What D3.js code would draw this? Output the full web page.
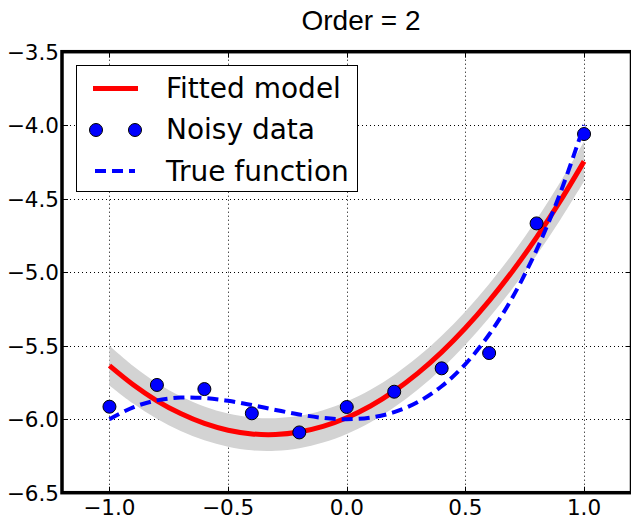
<!DOCTYPE html>
<html>
<head>
<meta charset="utf-8">
<script src="https://cdn.jsdelivr.net/npm/d3@7"></script>
<style>
  body { margin: 0; background: #fff; }
  svg { display: block; }
</style>
</head>
<body>
<div id="chart"></div>
<script>
// noisy samples
const xData = [-1.0, -0.8, -0.6, -0.4, -0.2, 0.0, 0.2, 0.4, 0.6, 0.8, 1.0];
const yData = [-5.915, -5.767, -5.795, -5.96, -6.09, -5.917, -5.813, -5.654, -5.55, -4.668, -4.06];

// curve grid
const xGrid = [-1.0, -0.9, -0.8, -0.7, -0.6, -0.5, -0.4, -0.3, -0.2, -0.1, 0.0,
               0.1, 0.2, 0.3, 0.4, 0.5, 0.6, 0.7, 0.8, 0.9, 1.0];
const fitted = [-5.636, -5.766, -5.875, -5.962, -6.029, -6.075, -6.100, -6.104, -6.087, -6.049, -5.990,
                -5.910, -5.809, -5.687, -5.544, -5.380, -5.195, -4.990, -4.763, -4.515, -4.246];
const bandUpper = [-5.501, -5.638, -5.753, -5.844, -5.914, -5.962, -5.988, -5.993, -5.977, -5.939, -5.880,
                   -5.800, -5.699, -5.576, -5.432, -5.267, -5.080, -4.872, -4.641, -4.387, -4.111];
const bandLower = [-5.771, -5.894, -5.997, -6.080, -6.144, -6.188, -6.212, -6.215, -6.197, -6.159, -6.100,
                   -6.020, -5.919, -5.798, -5.656, -5.493, -5.310, -5.108, -4.885, -4.643, -4.381];
const trueFn = [-6.000, -5.919, -5.872, -5.853, -5.856, -5.875, -5.904, -5.937, -5.968, -5.991, -6.000,
                -5.989, -5.952, -5.883, -5.776, -5.625, -5.424, -5.167, -4.848, -4.461, -4.000];

const xTicks = [-1.0, -0.5, 0.0, 0.5, 1.0];
const yTicks = [-3.5, -4.0, -4.5, -5.0, -5.5, -6.0, -6.5];
const legendLabels = ["Fitted model", "Noisy data", "True function"];

const width = 631, height = 517;
const plot = { left: 62, right: 631.5, top: 51.7, bottom: 492.7 };

const svg = d3.select("#chart").append("svg")
    .attr("width", width)
    .attr("height", height);

const x = d3.scaleLinear().domain([-1.2, 1.2]).range([plot.left, plot.right]);
const y = d3.scaleLinear().domain([-6.5, -3.5]).range([plot.bottom, plot.top]);

// title
svg.append("text")
    .attr("x", 361)
    .attr("y", 29.5)
    .attr("text-anchor", "middle")
    .style("font-family", "'Liberation Sans', Arial, sans-serif")
    .style("font-size", "28px")
    .text("Order = 2");

// grid
const grid = svg.append("g")
    .attr("stroke", "#000")
    .attr("stroke-width", 1)
    .attr("stroke-dasharray", "1,3");
grid.selectAll("line.vx")
    .data(xTicks)
    .enter().append("line")
        .attr("x1", d => Math.round(x(d)) + 0.5)
        .attr("x2", d => Math.round(x(d)) + 0.5)
        .attr("y1", plot.top)
        .attr("y2", plot.bottom);
grid.selectAll("line.hy")
    .data(yTicks)
    .enter().append("line")
        .attr("y1", d => Math.round(y(d)) + 0.5)
        .attr("y2", d => Math.round(y(d)) + 0.5)
        .attr("x1", plot.left)
        .attr("x2", plot.right);

// confidence band
const band = d3.area()
    .x((d, i) => x(xGrid[i]))
    .y0((d, i) => y(bandLower[i]))
    .y1((d, i) => y(bandUpper[i]))
    .curve(d3.curveCatmullRom);
svg.append("path")
    .datum(xGrid)
    .attr("d", band)
    .attr("fill", "#d3d3d3");

// fitted model
const line = d3.line()
    .x((d, i) => x(xGrid[i]))
    .y(d => y(d))
    .curve(d3.curveCatmullRom);
svg.append("path")
    .datum(fitted)
    .attr("d", line)
    .attr("fill", "none")
    .attr("stroke", "#ff0000")
    .attr("stroke-width", 5);

// noisy data
svg.append("g")
    .selectAll("circle")
    .data(xData)
    .enter().append("circle")
        .attr("cx", d => x(d))
        .attr("cy", (d, i) => y(yData[i]))
        .attr("r", 6.5)
        .attr("fill", "#0000ff")
        .attr("stroke", "#000")
        .attr("stroke-width", 1);

// true function
svg.append("path")
    .datum(trueFn)
    .attr("d", line)
    .attr("fill", "none")
    .attr("stroke", "#0000ff")
    .attr("stroke-width", 4)
    .attr("stroke-dasharray", "11,6");

// ticks (inside, all four sides)
const ticks = svg.append("g").attr("stroke", "#000").attr("stroke-width", 1);
xTicks.forEach(t => {
    const px = Math.round(x(t)) + 0.5;
    ticks.append("line").attr("x1", px).attr("x2", px).attr("y1", plot.bottom).attr("y2", plot.bottom - 6);
    ticks.append("line").attr("x1", px).attr("x2", px).attr("y1", plot.top).attr("y2", plot.top + 6);
});
yTicks.forEach(t => {
    const py = Math.round(y(t)) + 0.5;
    ticks.append("line").attr("y1", py).attr("y2", py).attr("x1", plot.left).attr("x2", plot.left + 6);
    ticks.append("line").attr("y1", py).attr("y2", py).attr("x1", plot.right).attr("x2", plot.right - 6);
});

// spines
svg.append("rect")
    .attr("x", plot.left)
    .attr("y", plot.top)
    .attr("width", plot.right - plot.left)
    .attr("height", plot.bottom - plot.top)
    .attr("fill", "none")
    .attr("stroke", "#000")
    .attr("stroke-width", 3.5);

// tick labels
const fmt = d3.format(".1f");
const tickFont = "'DejaVu Sans', sans-serif";
svg.append("g")
    .selectAll("text")
    .data(xTicks)
    .enter().append("text")
        .attr("x", d => x(d))
        .attr("y", 514.5)
        .attr("text-anchor", "middle")
        .style("font-family", tickFont)
        .style("font-size", "21.5px")
        .text(d => fmt(d));
svg.append("g")
    .selectAll("text")
    .data(yTicks)
    .enter().append("text")
        .attr("x", 59)
        .attr("y", d => y(d) + 7.8)
        .attr("text-anchor", "end")
        .style("font-family", tickFont)
        .style("font-size", "21.5px")
        .text(d => fmt(d));

// legend
const legend = svg.append("g");
legend.append("rect")
    .attr("x", 76.5)
    .attr("y", 65.5)
    .attr("width", 281)
    .attr("height", 126)
    .attr("fill", "#fff")
    .attr("stroke", "#000")
    .attr("stroke-width", 1);

legend.append("line")
    .attr("x1", 93).attr("x2", 138)
    .attr("y1", 88.5).attr("y2", 88.5)
    .attr("stroke", "#ff0000")
    .attr("stroke-width", 5);
[96, 135].forEach(cx => {
    legend.append("circle")
        .attr("cx", cx).attr("cy", 130)
        .attr("r", 6.5)
        .attr("fill", "#0000ff")
        .attr("stroke", "#000")
        .attr("stroke-width", 1);
});
legend.append("line")
    .attr("x1", 95).attr("x2", 135)
    .attr("y1", 171).attr("y2", 171)
    .attr("stroke", "#0000ff")
    .attr("stroke-width", 4)
    .attr("stroke-dasharray", "11,6");

legend.selectAll("text.lbl")
    .data(legendLabels)
    .enter().append("text")
        .attr("x", 166)
        .attr("y", (d, i) => 97.5 + i * 41.5)
        .style("font-family", tickFont)
        .style("font-size", "28px")
        .text(d => d);
</script>
</body>
</html>
